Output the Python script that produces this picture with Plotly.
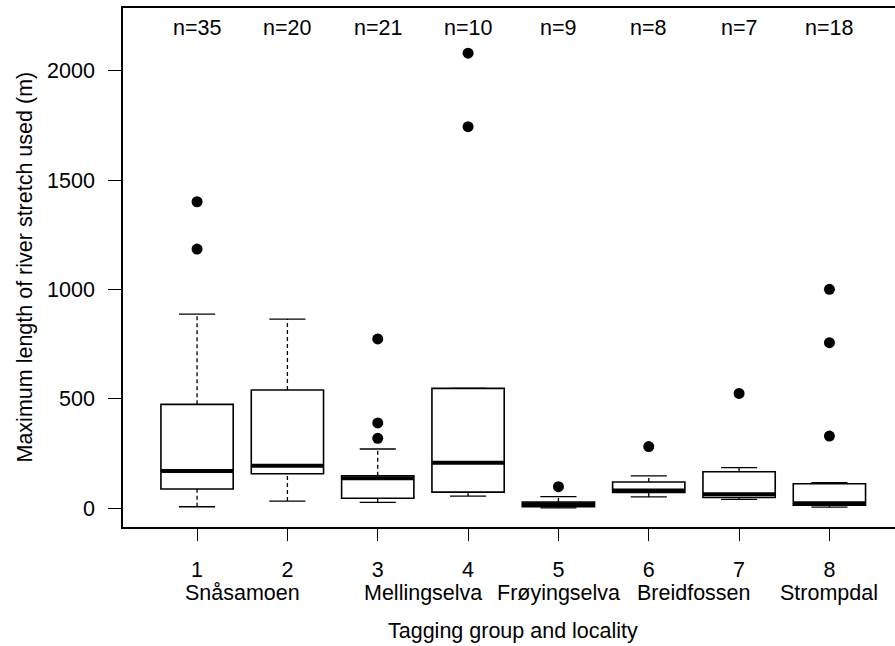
import plotly.graph_objects as go

# ---- data ----
groups = [1, 2, 3, 4, 5, 6, 7, 8]
tick_labels = ["1", "2", "3", "4", "5", "6", "7", "8"]
# each locality covers one or two tagging groups
locality_names = ["Snåsamoen", "Mellingselva", "Frøyingselva", "Breidfossen", "Strompdal"]
locality_groups = [[1, 2], [3, 4], [5], [6, 7], [8]]
n_counts = [35, 20, 21, 10, 9, 8, 7, 18]
q1 = [88, 158, 46, 74, 7, 72, 49, 14]
median = [170, 195, 137, 208, 18, 81, 64, 23]
q3 = [475, 541, 149, 548, 29, 120, 167, 112]
whisker_low = [7, 33, 27, 56, 2, 52, 41, 5]
whisker_high = [887, 865, 271, 548, 53, 148, 186, 117]
outliers = [[1185, 1401], [], [320, 390, 774], [1744, 2080], [99], [282], [525], [330, 757, 1001]]

FONT = "Liberation Sans, Arial, sans-serif"
FS = 21.5
FS_Y = 21.5
BOXW = 0.8
CAPW = 0.4

fig = go.Figure()

# whiskers (dashed)
wx, wy = [], []
for g, lo, a, b, hi in zip(groups, whisker_low, q1, q3, whisker_high):
    wx += [g, g, None, g, g, None]
    wy += [lo, a, None, b, hi, None]
fig.add_trace(go.Scatter(x=wx, y=wy, mode="lines", line=dict(color="black", width=1.3, dash="4px,3px"),
                         hoverinfo="skip", showlegend=False))

# caps
cx, cy = [], []
for g, lo, hi in zip(groups, whisker_low, whisker_high):
    cx += [g - CAPW / 2, g + CAPW / 2, None, g - CAPW / 2, g + CAPW / 2, None]
    cy += [lo, lo, None, hi, hi, None]
fig.add_trace(go.Scatter(x=cx, y=cy, mode="lines", line=dict(color="black", width=1.3),
                         hoverinfo="skip", showlegend=False))

# boxes
fig.add_trace(go.Box(x=groups, q1=q1, median=median, q3=q3, lowerfence=q1, upperfence=q3,
                     width=BOXW, fillcolor="white", line=dict(color="black", width=1.6),
                     boxpoints=False, whiskerwidth=0, showlegend=False, hoverinfo="skip"))

# medians (thick)
mx, my = [], []
for g, m in zip(groups, median):
    mx += [g - BOXW / 2, g + BOXW / 2, None]
    my += [m, m, None]
fig.add_trace(go.Scatter(x=mx, y=my, mode="lines", line=dict(color="black", width=4),
                         hoverinfo="skip", showlegend=False))

# outliers
ox, oy = [], []
for g, vals in zip(groups, outliers):
    for v in vals:
        ox.append(g)
        oy.append(v)
fig.add_trace(go.Scatter(x=ox, y=oy, mode="markers", marker=dict(color="black", size=11),
                         hoverinfo="skip", showlegend=False))

annotations = []
for g, n in zip(groups, n_counts):
    annotations.append(dict(x=g, xref="x", y=1, yref="paper", yshift=-20, yanchor="middle",
                            text=f"n={n}", showarrow=False, font=dict(family=FONT, size=FS, color="black")))
for name, gs in zip(locality_names, locality_groups):
    annotations.append(dict(x=sum(gs) / len(gs), xref="x", y=0, yref="paper", yshift=-66, yanchor="middle",
                            text=name, showarrow=False, font=dict(family=FONT, size=FS, color="black")))
annotations.append(dict(x=4.5, xref="x", y=0, yref="paper", yshift=-104, yanchor="middle",
                        text="Tagging group and locality", showarrow=False,
                        font=dict(family=FONT, size=FS, color="black")))
annotations.append(dict(x=0, xref="paper", xshift=-99, y=0.5, yref="paper", yshift=0,
                        xanchor="center", yanchor="middle",
                        textangle=-90, text="Maximum length of river stretch used (m)", showarrow=False,
                        font=dict(family=FONT, size=FS_Y, color="black")))

fig.update_layout(
    width=895, height=646,
    margin=dict(l=123, r=0, t=8, b=119),
    paper_bgcolor="white", plot_bgcolor="white",
    font=dict(family=FONT, size=FS, color="black"),
    annotations=annotations,
    xaxis=dict(range=[0.18, 8.726], tickvals=groups, ticktext=tick_labels, ticks="outside", ticklen=12,
               tickwidth=1.3, tickcolor="black", showline=True, linecolor="black", linewidth=1.5,
               mirror=True, showgrid=False, zeroline=False, ticklabelstandoff=10,
               tickfont=dict(family=FONT, size=FS, color="black")),
    yaxis=dict(range=[-85.5, 2286.6], tickvals=[0, 500, 1000, 1500, 2000], ticks="outside", ticklen=13,
               tickwidth=1.3, tickcolor="black", showline=True, linecolor="black", linewidth=1.5,
               mirror=False, showgrid=False, zeroline=False, ticklabelstandoff=9,
               tickfont=dict(family=FONT, size=FS, color="black")),
)

fig.write_html("out.html")
